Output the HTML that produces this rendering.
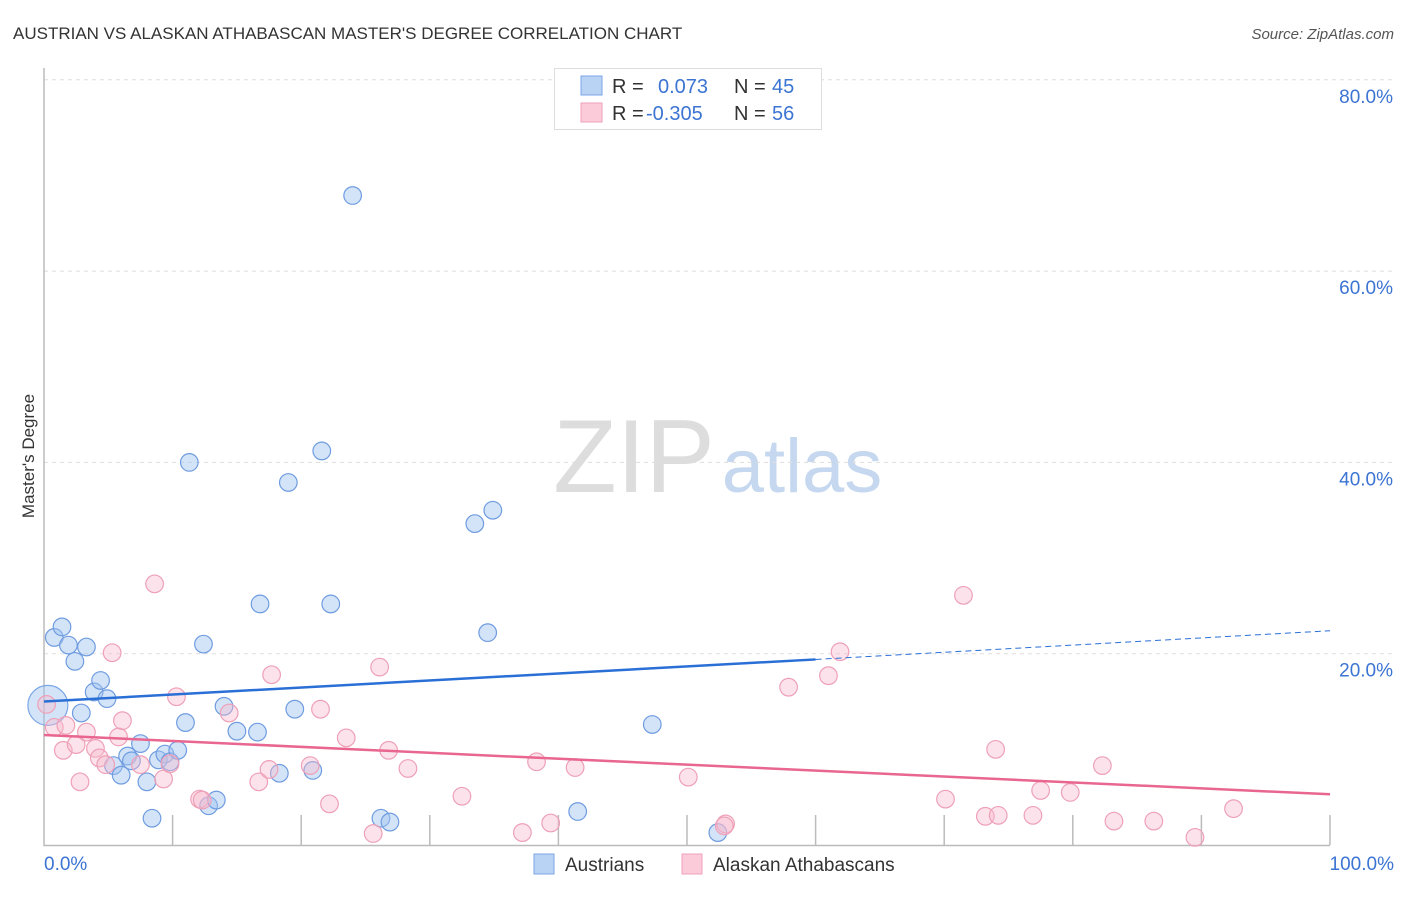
<!DOCTYPE html>
<html><head><meta charset="utf-8">
<style>
body{margin:0;background:#fff;font-family:"Liberation Sans",sans-serif;}
svg text{font-family:"Liberation Sans",sans-serif;}
</style></head>
<body>
<svg id="chart" width="1406" height="892" viewBox="0 0 1406 892" xmlns="http://www.w3.org/2000/svg">
<text x="13" y="39" font-size="17" fill="#333">AUSTRIAN VS ALASKAN ATHABASCAN MASTER'S DEGREE CORRELATION CHART</text>
<text x="1394" y="39" font-size="15" fill="#555" font-style="italic" text-anchor="end">Source: ZipAtlas.com</text>
<text x="34" y="456" font-size="17" fill="#333" text-anchor="middle" transform="rotate(-90 34 456)">Master's Degree</text>
<g>
<text x="634" y="492" font-size="104" fill="#ddd" font-family="Liberation Serif" text-anchor="middle">ZIP</text>
<text x="802" y="492" font-size="76" fill="#c5d8ef" text-anchor="middle">atlas</text>
</g>
<g id="grid"></g>
<g id="axes"></g>
<g id="points"></g>
<g id="trends"></g>
<g>
<rect x="554.5" y="68.5" width="267" height="61" fill="#fff" stroke="#ddd"/>
<rect x="581" y="76" width="21" height="19" fill="#b9d3f5" stroke="#7ba6e6"/>
<rect x="581" y="103" width="21" height="19" fill="#fbcbd9" stroke="#eea0b8"/>
<text x="612" y="93" font-size="20" fill="#333">R =</text>
<text x="658" y="93" font-size="20" fill="#3b74d2">0.073</text>
<text x="734" y="93" font-size="20" fill="#333">N =</text>
<text x="772" y="93" font-size="20" fill="#3b74d2">45</text>
<text x="612" y="120" font-size="20" fill="#333">R =</text>
<text x="646" y="120" font-size="20" fill="#3b74d2">-0.305</text>
<text x="734" y="120" font-size="20" fill="#333">N =</text>
<text x="772" y="120" font-size="20" fill="#3b74d2">56</text>
</g>
<g>
<rect x="534" y="854" width="20" height="20" fill="#b9d3f5" stroke="#7ba6e6"/>
<text x="565" y="871" font-size="19" fill="#333">Austrians</text>
<rect x="682" y="854" width="20" height="20" fill="#fbcbd9" stroke="#eea0b8"/>
<text x="713" y="871" font-size="19" fill="#333">Alaskan Athabascans</text>
</g>
</svg>
<script>
const yTicks=[20,40,60,80];
const yTickLabels=["20.0%","40.0%","60.0%","80.0%"];
const xTickLabels=["0.0%","100.0%"];
const blueX=[0.8,1.4,1.9,2.4,3.3,3.9,4.4,4.9,2.9,5.4,6.0,6.5,6.8,7.5,8.0,8.4,8.9,9.4,9.8,10.4,11.0,11.3,12.4,12.8,13.4,14.0,15.0,16.6,16.8,18.3,19.0,19.5,20.9,21.6,22.3,24.0,26.2,26.9,33.5,34.5,34.9,41.5,47.3,52.4,0.3];
const blueY=[21.7,22.8,20.9,19.2,20.7,16.0,17.2,15.3,13.8,8.3,7.3,9.3,8.8,10.6,6.6,2.8,8.9,9.5,8.7,9.9,12.8,40.0,21.0,4.1,4.7,14.5,11.9,11.8,25.2,7.5,37.9,14.2,7.8,41.2,25.2,67.9,2.8,2.4,33.6,22.2,35.0,3.5,12.6,1.3,14.6];
const pinkX=[0.2,0.8,1.5,1.7,2.5,2.8,3.3,4.0,4.3,4.8,5.3,5.8,6.1,7.5,8.6,9.3,9.8,10.3,12.1,12.3,14.4,16.7,17.5,17.7,20.7,21.5,22.2,23.5,25.6,26.1,26.8,28.3,32.5,37.2,38.3,39.4,41.3,50.1,53.0,57.9,61.0,61.9,70.1,71.5,73.2,74.0,74.2,76.9,77.5,79.8,82.3,83.2,86.3,89.5,92.5,52.9];
const pinkY=[14.7,12.3,9.9,12.5,10.5,6.6,11.8,10.1,9.1,8.4,20.1,11.3,13.0,8.4,27.3,6.9,8.5,15.5,4.8,4.7,13.8,6.6,7.9,17.8,8.3,14.2,4.3,11.2,1.2,18.6,9.9,8.0,5.1,1.3,8.7,2.3,8.1,7.1,2.2,16.5,17.7,20.2,4.8,26.1,3.0,10.0,3.1,3.1,5.7,5.5,8.3,2.5,2.5,0.8,3.8,2.0];
const blueTrend=[15.0,19.4,22.4];
const pinkTrend=[11.5,5.3];

const NS="http://www.w3.org/2000/svg";
const X0=44,X1=1330,Y0=845,PY=9.565;
const sx=v=>X0+(X1-X0)*v/100;
const sy=v=>Y0-PY*v;
function mk(tag,attrs,parent){const e=document.createElementNS(NS,tag);for(const k in attrs)e.setAttribute(k,attrs[k]);parent.appendChild(e);return e;}
const grid=document.getElementById('grid'),axes=document.getElementById('axes'),pts=document.getElementById('points'),tr=document.getElementById('trends');
yTicks.forEach((t,i)=>{
 const l=mk('line',{x1:44,x2:1394,y1:sy(t),y2:sy(t),stroke:'#ddd','stroke-dasharray':'4 4'},grid);
 
 
 const tx=mk('text',{x:1393,y:sy(t)+23,'font-size':19,fill:'#3b74d2','text-anchor':'end'},grid);
 tx.textContent=yTickLabels[i];
 
 
});
const ax=mk('path',{d:`M44 68 V845.5 H1330`,fill:'none',stroke:'#bbb','stroke-width':1.5},axes);


for(let i=1;i<=10;i++){
 const t=mk('line',{x1:sx(i*10),x2:sx(i*10),y1:815,y2:845,stroke:'#bbb','stroke-width':1.5},axes);
 
 
}
[[0,'start',44],[100,'end',1394]].forEach((d,i)=>{
 const tx=mk('text',{x:d[2],y:870,'font-size':19,fill:'#3b74d2','text-anchor':d[1]},axes);
 tx.textContent=xTickLabels[i];
 
 
});
const big=mk('circle',{cx:sx(blueX[44]),cy:sy(blueY[44]),r:20,fill:'rgba(160,196,240,0.45)',stroke:'#7ba6e6','stroke-width':1.2},pts);


for(let i=0;i<44;i++){
 const c=mk('circle',{cx:sx(blueX[i]),cy:sy(blueY[i]),r:8.8,fill:'rgba(160,196,240,0.45)',stroke:'#6f9ce0','stroke-width':1.2},pts);
 
 
}
for(let i=0;i<pinkX.length;i++){
 const c=mk('circle',{cx:sx(pinkX[i]),cy:sy(pinkY[i]),r:8.8,fill:'rgba(248,185,205,0.4)',stroke:'#eea0b8','stroke-width':1.2},pts);
 
 
}
const b1=mk('line',{x1:sx(0),y1:sy(blueTrend[0]),x2:sx(60),y2:sy(blueTrend[1]),stroke:'#2a6fd6','stroke-width':2.5},tr);


const b2=mk('line',{x1:sx(60),y1:sy(blueTrend[1]),x2:sx(100),y2:sy(blueTrend[2]),stroke:'#2a6fd6','stroke-width':1,'stroke-dasharray':'6 4'},tr);


const p1=mk('line',{x1:sx(0),y1:sy(pinkTrend[0]),x2:sx(100),y2:sy(pinkTrend[1]),stroke:'#e8668f','stroke-width':2.5},tr);


</script>
</body></html>
